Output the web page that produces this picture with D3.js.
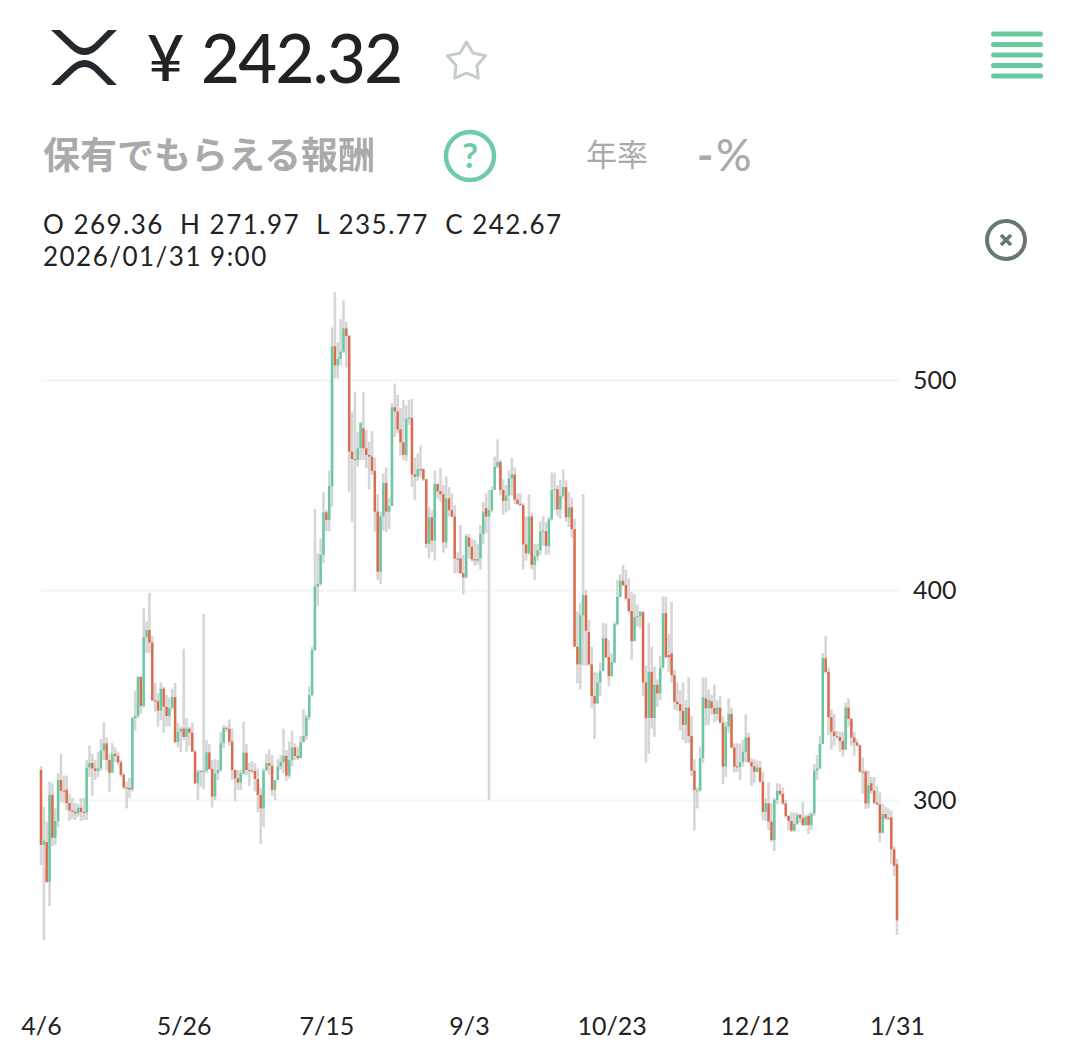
<!DOCTYPE html>
<meta charset="utf-8">
<style>
body { margin: 0; background: #fff; }
svg { display: block; }
text { font-family: Lato, "Noto Sans CJK JP", sans-serif; }
.axis text { font: 25px Lato, sans-serif; fill: #222; }
.axis path { display: none; }
.y.axis line { stroke: #eef8f5; stroke-width: 2; }
.x.axis line { display: none; }
</style>
<svg class="chart" width="1074" height="1040"></svg>
<script src="https://d3js.org/d3.v7.min.js"></script>
<script>

var opens = [
314.3,278.6,280,261,302.4,282,290,309.5,304.4,305,
298.5,295,294.4,293.6,296.3,294.3,294,315.4,317.6,315,
313.8,315,323.5,327,319,313,322,321,318,312,
306,305.8,305,339,340,358.6,344.8,377.6,381,375,
347.5,347,342.5,353,344.4,340,343.8,349,327.6,332.5,
334,330,334,332,323,308,313.5,313.8,314,322.7,
314.8,301.6,312.7,314.3,327,334.4,333.9,327.8,314.3,310.3,
308.3,312.7,322.5,314.3,314,313.8,310,302.4,296,314,
317.5,316.3,304.8,309.5,315.9,318,321,311.6,319,325,
321,320,327.5,330.5,339.4,350,371.4,401.6,403,416.7,
437,433.3,449.5,516,507,510,513.5,524.6,521,465.9,
462.4,462,467.5,477,467.5,464.3,463.5,456.7,437.3,408.7,
435,451,437.3,440,487,485,476.5,470.3,464.3,481.7,
482,455,454,457.5,457.5,452.7,422,434.6,423.5,450.5,
447,445.6,422.7,443.7,438,435,415,415,408,406,
425,420.6,414.6,414.6,415,426.7,439,435,438,447.6,
458.7,461,447.6,442.4,445,453,455,443,441,440.5,
421.7,417.5,435,412,416,419,428,428,421,433.7,
447.6,448,438.4,444.8,449,434.6,439.4,429,373,364.6,
388,397.6,380,364.6,349.5,346,356,361.4,377,368,
359,365.6,383.8,396.8,404.4,402.4,396,390,375.7,387,
387.5,389.4,356,339,361,339,354.8,350.8,363,389,
369,369.8,359.5,346.8,345.7,342.4,335.7,344,330.5,314,
304.4,304.6,320,348.4,343.7,347,343.7,341,344,336.8,
315.9,335,341,325,316,315.6,318,323,329.8,318,
316,313.5,315.4,308.7,294.4,298.4,289.7,281,300,304.4,
302.9,298.4,292.4,290,285.4,288.6,292.9,291.3,288,292.4,
288,293.7,314,315,326.7,367.5,361,339.4,332.5,330.5,
330,328,324,344,338.6,329.8,327.3,326,313.5,313.5,
298.4,308,304.4,298.7,298,284.4,293.3,291.3,291.7,276.5,269.36];

var highs = [
316.2,296.8,289.7,308.7,308,296,312.8,322,311.6,311.6,
303,301,298.5,298,301,301,319,326,322,319,
323,329,337,330,322,327,325,323,319,313,
308.6,310.5,339.5,352,359,359,391.4,385,398.6,378,
355.7,351,356,354,350,349,353,355.7,336.7,335,
372,339,335,336.8,323.8,314.3,314.3,388.6,328.6,326.7,
319,319.4,319,332.5,335.7,335,338.4,334,314.5,314.3,
314.3,337.3,326.7,317.8,318.6,317.5,315,305.6,315,322,
324,321.4,309.5,319.4,321.4,334,323.8,327.8,333,327,
325.4,330.5,343.3,340.5,354.3,373,438.6,417.5,424.6,446.5,
438,457,525,542,518,529,537.8,527.8,521.5,484.6,
494.4,475.4,480,494.4,476,470.6,475.7,463,445.6,437.3,
455.6,458.4,443.7,489,498.4,492.9,486.5,490.5,487.8,490.5,
491,463,465,468.7,458,453,439.7,438,456.7,450.6,
458,450,454,449,446,440.5,418,431,416.7,426.7,
426.7,424.6,423.8,422,431,442,446,447.6,449.5,463.5,
471.7,462,452.7,450,456.8,463,458.4,446,446,441.3,
435,445.6,436.8,422,422,432.5,435,432.5,435,455.9,
456,450,452.4,457.5,452.4,446.8,444,434,389.7,394,
445.7,400,385.7,373,361,360.6,365.4,384.4,384,376,
369.8,385,404.8,407.6,412,409.8,405.6,399,398,393,
390,390,364,384.4,373,363.5,357.5,368.6,396.8,396.8,
379,394.4,361.9,356,352.4,356,347.6,358.4,340,319.4,
306,325.4,358.4,358.4,352.7,350,355,347.6,349.5,339.7,
337.3,348.4,344,327,327,327,328.6,340.8,332,319.8,
319.4,318.7,318.7,313.5,300.8,308.4,298.4,301,308,307.6,
306,300,293,294.4,294,294,293.3,299,293,293.6,
294.4,317,321.4,330.5,370,378,363,343,341,333,
332.5,332.5,346.3,348.4,339,332.5,329,326.5,320.3,314.3,
314,311,311,306.8,304,298,296.8,296,295,278,271.97];

var lows = [
269,233.3,260.5,249.5,278,278.6,287,299,298.5,295,
290,291,290.5,292,290,290.5,290.5,311,302,309.5,
311,314,319,314,303.8,313,318,316.7,311,305,
296,301,304,333,339,341,344,370,370,347,
342,335,338,332,335,335,343,327,325,322.7,
328.6,323,326,323,307.5,300,306.3,305,312.7,314.3,
296.5,300,309.5,313.5,324.6,332.5,325.9,309.5,299.5,304.8,
304.8,311.9,311.9,306.7,312.7,304,294.4,279,287,314,
312,302,300,309.5,314.3,312.7,309,310.3,315.9,319,
319,319.8,327.5,328.6,338,349.2,371,392.4,402,412.7,
428,428,439.7,500.8,500.8,507,512.7,506,446.8,432.5,
399.2,458.7,461.9,462,458,448,454.8,427.8,404.8,402.9,
428,427.6,428.9,440,473,474.6,464,461.9,461.4,478.6,
449,442.9,452,453.7,452,419.8,415,418,414,443.6,
442,417.8,419.8,435,434.6,408,408,407.6,398,405.6,
415,413.5,411.4,412,409.8,422,427,300,437,447.6,
458,445,435.7,437,438,445,441,440.5,440,409.8,
414,416.7,409.8,404.8,414,416.7,421,416.7,417,433,
438,435,434,443.6,432.5,430,425,373,355.6,352.7,
364,364,364,344,329,345.7,349.5,365.4,367.5,354,
358.7,365,383,396.5,401.6,395,388.9,366.7,375.4,382.5,
381.7,349.5,317.8,322,334,330,344.4,347.6,362.7,367.5,
361,356,342.9,342.5,333,328.6,327,327,311.4,285.4,
296,304,317.5,335.4,335.7,340.5,337,337.8,336.5,307.6,
311,332,324.6,313,313.5,309.5,315.9,318,318,306.7,
308,313,308.5,290.5,290,285.7,280,275.7,298,301.6,
297.6,291.3,285.7,284.9,284.9,288,289,287.8,287.8,283.8,
285.7,292.5,309.5,314.8,326.7,360.3,331,324,326,329,
323,320.6,323.8,334.6,325.7,321,325.5,313,303,295.7,
296,303,298,297.6,280,284,290.5,290.5,269.4,264,235.77];

var closes = [
278.6,280.6,261,302.4,282,290,309.5,304.4,304,298.5,
295,294.4,293.6,296.3,294.3,294,315.4,317.6,315,313.8,
315,323.5,327,319,313,322,321,318,312,306,
305.8,305,339,340,358.6,344.8,377.6,381,375,347.5,
347,342.5,353,344.4,340,343.8,349,327.6,332.5,334,
330,334,332,323,307.9,313.5,313.8,314,322.7,314.8,
301.6,312.7,314.3,327,334.4,333.9,327.8,314.3,310.3,308.3,
312.7,322.5,314.3,314,313.8,310,302.4,296,314,317.5,
316.3,304.8,309.5,315.9,318,321,311.6,319,325,321,
320,327.5,330.5,339.4,350,371.4,401.6,403,416.7,437,
433.3,449.5,516,507,510,513.5,524.6,521,465.9,462.4,
462,467.5,479.4,467.5,464.3,463.5,456.7,437.3,408.7,435,
451,437.3,440,487,485,476.5,470.3,464.3,481.7,482,
455,454,457.5,457,452.7,422,434.6,423.5,450.5,447,
445.6,422.7,443.7,438,435,415,414.6,408,406,425.7,
420.6,414.6,414.3,414,426.7,437.3,435,438,447.6,458.7,
461,447.6,442.4,445,453,455,443,441,440.5,421.7,
417.5,435,412,416,419,428,428.2,421,433.7,447.6,
448,438.4,444.8,449,434.6,439.4,429,373,364.6,388,
397.6,380.6,364.6,349.5,346,356,361.4,377,368,359,
365.6,383.8,396.8,404.4,402.4,396,390,375.7,387,387.5,
389.7,356,339,361,339,354.8,350.8,363,389,368,
368,359.5,346.8,345.7,342.4,335.7,344,330.5,314,304.8,
304.6,320,349,343.7,347.6,343.7,341,344,336.8,315.9,
335,341,325,315.9,315.6,318,323,329.8,318,316,
313.5,315.4,308.7,294.4,298.4,289.7,281,300,304.4,302.9,
298.4,292.4,290,285.4,288.6,292.9,291.3,288,292,288,
293.3,314,315,326.7,367.5,361,339.4,332.5,330.5,330,
328,324,344,338.6,329.8,327.3,326,313.5,313.2,298.4,
307,304.4,298.7,298,284.4,293.3,291.3,290.9,276.5,268.6,242.67];

var priceTicks = [300, 400, 500];
var dateTickIndex = [0, 50, 100, 150, 200, 250, 300];
var dateTickLabels = ["4/6", "5/26", "7/15", "9/3", "10/23", "12/12", "1/31"];

var x = d3.scaleLinear().domain([0, opens.length - 1]).range([41, 897]);
var y = d3.scaleLinear().domain([300, 500]).range([800, 380]);

var chart = d3.select(".chart");

// grid + price labels
chart.append("g")
  .attr("class", "y axis")
  .attr("transform", "translate(899,0)")
  .call(d3.axisRight(y).tickValues(priceTicks).tickSize(-858).tickPadding(14).tickFormat(d3.format("d")));

chart.append("g")
  .attr("class", "x axis")
  .attr("transform", "translate(0,1009)")
  .call(d3.axisBottom(x).tickValues(dateTickIndex).tickSize(0).tickPadding(8)
    .tickFormat(function(d, i) { return dateTickLabels[i]; }));

// wicks first, bodies on top
chart.append("g").selectAll("line")
  .data(opens)
  .enter().append("line")
  .attr("x1", function(d, i) { return x(i); })
  .attr("x2", function(d, i) { return x(i); })
  .attr("y1", function(d, i) { return y(highs[i]); })
  .attr("y2", function(d, i) { return y(lows[i]); })
  .attr("stroke", "#d6d6d6")
  .attr("stroke-width", 2.6);

chart.append("g").selectAll("rect")
  .data(opens)
  .enter().append("rect")
  .attr("x", function(d, i) { return x(i) - 1.2; })
  .attr("width", 2.4)
  .attr("y", function(d, i) { return y(Math.max(d, closes[i])); })
  .attr("height", function(d, i) { return Math.max(1, Math.abs(y(d) - y(closes[i]))); })
  .attr("fill", function(d, i) { return closes[i] >= d ? "#68c9a0" : "#dc6a4b"; });

// header
chart.append("path")
  .attr("d", "M51 30 H60 L75 44 Q84.5 52 94 44 L108 30 H117 L98 49 Q84.5 61 71 49 Z M51 85 H60 L75 71 Q84.5 63 94 71 L108 85 H117 L98 66 Q84.5 54 71 66 Z")
  .attr("fill", "#23292f");

chart.append("text").attr("x", 147).attr("y", 81).attr("font-size", 64).attr("font-weight", 500).attr("fill", "#222").text("¥");
chart.append("text").attr("x", 201).attr("y", 83).attr("font-size", 67).attr("font-weight", 500)
  .attr("letter-spacing", -1.6).attr("fill", "#222").text("242.32");

var starOuter = 20, starInner = 11;
var starPoints = d3.range(10).map(function(i) {
  return [i * Math.PI / 5, i % 2 ? starInner : starOuter];
});
chart.append("path")
  .attr("transform", "translate(466.5,62)")
  .attr("d", d3.lineRadial().curve(d3.curveLinearClosed)(starPoints))
  .attr("fill", "none").attr("stroke", "#c0cdc8").attr("stroke-width", 3).attr("stroke-linejoin", "round");

// hamburger
chart.append("g").selectAll("rect")
  .data([34, 44.5, 55, 65.5, 76])
  .enter().append("rect")
  .attr("x", 991).attr("y", function(d) { return d - 2.5; })
  .attr("width", 52).attr("height", 5).attr("rx", 2.5)
  .attr("fill", "#68c99c");

chart.append("text").attr("x", 43).attr("y", 169).attr("font-size", 37).attr("font-weight", 700)
  .attr("fill", "#aaa").attr("font-family", "'Noto Sans CJK JP'").text("保有でもらえる報酬");

chart.append("circle").attr("cx", 470).attr("cy", 156).attr("r", 24)
  .attr("fill", "none").attr("stroke", "#6dcba8").attr("stroke-width", 4.5);
chart.append("text").attr("x", 470).attr("y", 168).attr("text-anchor", "middle").attr("font-size", 35)
  .attr("font-weight", 700).attr("fill", "#6dcba8").text("?");

chart.append("text").attr("x", 586).attr("y", 166).attr("font-size", 31)
  .attr("fill", "#aaa").attr("font-family", "'Noto Sans CJK JP'").text("年率");

var rate = chart.append("text").attr("y", 171).attr("font-size", 44).attr("fill", "#aaa");
rate.append("tspan").attr("x", 697).attr("font-weight", 700).text("-");
rate.append("tspan").attr("x", 716).attr("font-weight", 500).text("%");

var infoLine = chart.append("text").attr("x", 43).attr("y", 234.3).attr("font-size", 26).attr("fill", "#222")
  .attr("letter-spacing", 1.48).style("white-space", "pre").text("O 269.36  H 271.97  L 235.77  C 242.67");
var infoDate = chart.append("text").attr("x", 43).attr("y", 265.8).attr("font-size", 26).attr("fill", "#222")
  .attr("letter-spacing", 1.48).text("2026/01/31 9:00");

chart.append("circle").attr("cx", 1006).attr("cy", 240).attr("r", 19)
  .attr("fill", "none").attr("stroke", "#66796f").attr("stroke-width", 4);
chart.append("path").attr("d", "M1001 235 L1011 245 M1011 235 L1001 245")
  .attr("stroke", "#66796f").attr("stroke-width", 3.5);

</script>
